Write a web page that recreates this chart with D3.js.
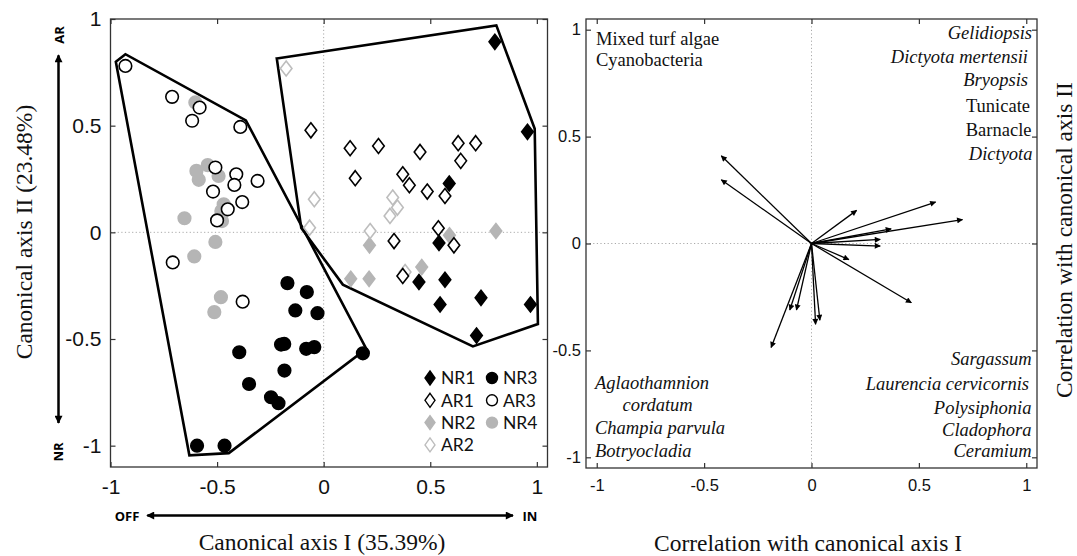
<!DOCTYPE html>
<html>
<head>
<meta charset="utf-8">
<script src="https://cdn.jsdelivr.net/npm/d3@7"></script>
<style>
  html, body { margin: 0; padding: 0; background: #fff; }
  svg { display: block; }
</style>
</head>
<body>
<svg id="chart" width="1077" height="556"></svg>
<script>
// ---- Canonical scores (axis I, axis II) per site group ----
const NR1 = [[0.803, 0.893], [0.956, 0.471], [0.589, 0.229], [0.541, -0.05], [0.569, -0.222],
             [0.447, -0.233], [0.546, -0.338], [0.738, -0.307], [0.970, -0.338], [0.717, -0.484]];
const AR1 = [[-0.06, 0.478], [0.124, 0.394], [0.257, 0.405], [0.452, 0.377], [0.631, 0.418],
             [0.713, 0.418], [0.643, 0.335], [0.148, 0.254], [0.371, 0.272], [0.402, 0.221],
             [0.486, 0.191], [0.569, 0.170], [0.538, 0.019], [0.33, -0.041], [0.611, -0.061],
             [0.371, -0.205]];
const NR2 = [[0.808, 0.006], [0.215, -0.061], [0.127, -0.218], [0.213, -0.218], [0.46, -0.163],
             [0.59, -0.014]];
const AR2 = [[-0.176, 0.768], [-0.044, 0.155], [-0.066, 0.022], [0.324, 0.163], [0.346, 0.116],
             [0.311, 0.077], [0.218, 0.006], [0.382, -0.186]];
const NR3 = [[-0.17, -0.238], [-0.079, -0.28], [-0.133, -0.366], [-0.029, -0.379], [-0.2, -0.526],
             [-0.185, -0.523], [-0.082, -0.546], [-0.044, -0.538], [-0.396, -0.562], [-0.184, -0.648],
             [-0.35, -0.711], [-0.247, -0.773], [-0.212, -0.801], [-0.594, -1.0], [-0.465, -1.0],
             [0.184, -0.567]];
const AR3 = [[-0.93, 0.78], [-0.711, 0.635], [-0.582, 0.585], [-0.617, 0.523], [-0.391, 0.494],
             [-0.508, 0.304], [-0.41, 0.272], [-0.31, 0.241], [-0.419, 0.222], [-0.519, 0.191],
             [-0.382, 0.142], [-0.45, 0.108], [-0.5, 0.056], [-0.708, -0.141], [-0.38, -0.325]];
const NR4 = [[-0.602, 0.609], [-0.544, 0.315], [-0.597, 0.288], [-0.586, 0.246], [-0.493, 0.264],
             [-0.469, 0.131], [-0.48, 0.10], [-0.653, 0.066], [-0.477, 0.053], [-0.508, -0.045],
             [-0.607, -0.113], [-0.482, -0.304], [-0.513, -0.374]];

// Envelopes around the offshore (NR3/AR3/NR4) and inshore (NR1/AR1/NR2/AR2) groups
const hullOff = [[-0.975, 0.80], [-0.93, 0.835], [-0.365, 0.525], [0.2, -0.546], [-0.445, -1.035], [-0.63, -1.045]];
const hullIn  = [[-0.22, 0.815], [0.81, 0.97], [0.99, 0.485], [1.005, -0.43], [0.70, -0.535], [0.09, -0.245], [-0.105, 0.02]];

// ---- Structure correlations with canonical axes ----
const vecX = [-0.42, -0.42, 0.21, 0.578, 0.703, 0.371, 0.32, 0.32, 0.174, 0.465, -0.188, -0.101, -0.07, 0.019, 0.039];
const vecY = [0.41, 0.298, 0.155, 0.194, 0.112, 0.068, 0.019, -0.012, -0.075, -0.277, -0.486, -0.311, -0.311, -0.378, -0.359];

const tickVals = [-1, -0.5, 0, 0.5, 1];
const tickLabels = ["-1", "-0.5", "0", "0.5", "1"];

const labelsTopLeft = ["Mixed turf algae", "Cyanobacteria"];
const labelsTopRight = [["Gelidiopsis", true], ["Dictyota mertensii", true], ["Bryopsis", true],
                        ["Tunicate", false], ["Barnacle", false], ["Dictyota", true]];
const labelsBottomLeft = ["Aglaothamnion", "cordatum", "Champia parvula", "Botryocladia"];
const labelsBottomRight = ["Sargassum", "Laurencia cervicornis", "Polysiphonia", "Cladophora", "Ceramium"];

const svg = d3.select("#chart");
const SANS = "'Liberation Sans', Arial, sans-serif";
const SERIF = "'Liberation Serif', 'Times New Roman', serif";
const LEG = "Lato, 'Open Sans', sans-serif";
const frameColor = "#333";

// ================= Left panel: canonical scores =================
const xL = d3.scaleLinear().domain([-1, 1.05]).range([110.5, 547.5]);
const yL = d3.scaleLinear().domain([-1.1, 1]).range([467, 19]);
const L = svg.append("g");

// zero reference lines
L.append("line").attr("x1", xL(-1)).attr("x2", xL(1.05)).attr("y1", yL(0)).attr("y2", yL(0))
  .attr("stroke", "#aaa").attr("stroke-dasharray", "1.2,2.4").attr("stroke-width", 1);
L.append("line").attr("x1", xL(0)).attr("x2", xL(0)).attr("y1", yL(1)).attr("y2", yL(-1.1))
  .attr("stroke", "#aaa").attr("stroke-dasharray", "1.2,2.4").attr("stroke-width", 1);

function styleAxis(g, fontSize) {
  g.select(".domain").remove();
  g.selectAll(".tick line").attr("stroke", frameColor).attr("stroke-width", 1.2);
  g.selectAll("text").attr("font-family", SANS).attr("font-size", fontSize).attr("fill", "#111");
}

const fmt = d => tickLabels[tickVals.indexOf(d)];
L.append("g").attr("transform", `translate(0,${yL(-1.1)})`)
  .call(d3.axisBottom(xL).tickValues(tickVals).tickFormat(fmt).tickSize(-5).tickPadding(12))
  .call(g => styleAxis(g, 21));
L.append("g").attr("transform", `translate(0,${yL(1)})`)
  .call(d3.axisTop(xL).tickValues(tickVals).tickFormat("").tickSize(-5))
  .call(g => styleAxis(g, 21));
L.append("g").attr("transform", `translate(${xL(-1)},0)`)
  .call(d3.axisLeft(yL).tickValues(tickVals).tickFormat(fmt).tickSize(-5).tickPadding(9))
  .call(g => styleAxis(g, 21));
L.append("g").attr("transform", `translate(${xL(1.05)},0)`)
  .call(d3.axisRight(yL).tickValues(tickVals).tickFormat("").tickSize(-5))
  .call(g => styleAxis(g, 21));

// envelopes
const lineL = d3.line().x(d => xL(d[0])).y(d => yL(d[1])).curve(d3.curveLinearClosed);
[hullOff, hullIn].forEach(h => {
  L.append("path").attr("d", lineL(h)).attr("fill", "none")
    .attr("stroke", "#000").attr("stroke-width", 2.6).attr("stroke-linejoin", "miter");
});

// marker shapes
const diamondPath = (cx, cy) => `M${cx},${cy - 7.5}L${cx + 5.8},${cy}L${cx},${cy + 7.5}L${cx - 5.8},${cy}Z`;
const groups = [
  { name: "NR4", data: NR4, shape: "circle", fill: "#b5b5b5", stroke: "#b5b5b5" },
  { name: "NR2", data: NR2, shape: "diamond", fill: "#b5b5b5", stroke: "#b5b5b5" },
  { name: "AR2", data: AR2, shape: "diamond", fill: "#fff", stroke: "#bdbdbd" },
  { name: "NR3", data: NR3, shape: "circle", fill: "#000", stroke: "#000" },
  { name: "AR3", data: AR3, shape: "circle", fill: "#fff", stroke: "#000" },
  { name: "AR1", data: AR1, shape: "diamond", fill: "#fff", stroke: "#000" },
  { name: "NR1", data: NR1, shape: "diamond", fill: "#000", stroke: "#000" }
];

function drawMarker(g, shape, cx, cy, fill, stroke) {
  if (shape === "circle") {
    g.append("circle").attr("cx", cx).attr("cy", cy).attr("r", 6.3)
      .attr("fill", fill).attr("stroke", stroke).attr("stroke-width", 1.6);
  } else {
    g.append("path").attr("d", diamondPath(cx, cy))
      .attr("fill", fill).attr("stroke", stroke).attr("stroke-width", 1.6);
  }
}

groups.forEach(grp => {
  const gg = L.append("g");
  grp.data.forEach(d => drawMarker(gg, grp.shape, xL(d[0]), yL(d[1]), grp.fill, grp.stroke));
});

// legend
const legendItems = [
  { name: "NR1", col: 0, row: 0 }, { name: "AR1", col: 0, row: 1 },
  { name: "NR2", col: 0, row: 2 }, { name: "AR2", col: 0, row: 3 },
  { name: "NR3", col: 1, row: 0 }, { name: "AR3", col: 1, row: 1 },
  { name: "NR4", col: 1, row: 2 }
];
const legG = L.append("g").attr("transform", "translate(430,378)");
legendItems.forEach(it => {
  const grp = groups.find(g => g.name === it.name);
  const cx = it.col * 62, cy = it.row * 22.3;
  if (grp.shape === "circle") {
    legG.append("circle").attr("cx", cx).attr("cy", cy).attr("r", 5.5)
      .attr("fill", grp.fill).attr("stroke", grp.stroke).attr("stroke-width", 1.4);
  } else {
    legG.append("path").attr("d", `M${cx},${cy - 7}L${cx + 5},${cy}L${cx},${cy + 7}L${cx - 5},${cy}Z`)
      .attr("fill", grp.fill).attr("stroke", grp.stroke).attr("stroke-width", 1.4);
  }
  legG.append("text").attr("x", cx + 11).attr("y", cy).attr("dy", "0.36em")
    .attr("font-family", LEG).attr("font-size", 17.5).attr("fill", "#111").text(it.name);
});

// frame
L.append("rect").attr("x", xL(-1)).attr("y", yL(1)).attr("width", xL(1.05) - xL(-1)).attr("height", yL(-1.1) - yL(1))
  .attr("fill", "none").attr("stroke", frameColor).attr("stroke-width", 1.3);

// axis titles
L.append("text").attr("x", 322).attr("y", 550).attr("text-anchor", "middle")
  .attr("font-family", SERIF).attr("font-size", 23.5).attr("fill", "#111").text("Canonical axis I (35.39%)");
L.append("text").attr("transform", "translate(32,232) rotate(-90)").attr("text-anchor", "middle")
  .attr("font-family", SERIF).attr("font-size", 23.5).attr("fill", "#111").text("Canonical axis II (23.48%)");

// gradient arrows
const defs = svg.append("defs");
defs.append("marker").attr("id", "bigHead").attr("viewBox", "0 0 10 10").attr("refX", 9).attr("refY", 5)
  .attr("markerWidth", 10).attr("markerHeight", 8).attr("markerUnits", "userSpaceOnUse").attr("orient", "auto")
  .append("path").attr("d", "M0,0L10,5L0,10Z").attr("fill", "#000");
L.append("line").attr("x1", 58.5).attr("x2", 58.5).attr("y1", 423).attr("y2", 55)
  .attr("stroke", "#000").attr("stroke-width", 2).attr("marker-end", "url(#bigHead)");
L.append("line").attr("x1", 58.5).attr("x2", 58.5).attr("y1", 56).attr("y2", 423)
  .attr("stroke", "#000").attr("stroke-width", 2).attr("marker-end", "url(#bigHead)");
L.append("line").attr("x1", 513).attr("x2", 147).attr("y1", 515.5).attr("y2", 515.5)
  .attr("stroke", "#000").attr("stroke-width", 2).attr("marker-end", "url(#bigHead)");
L.append("line").attr("x1", 148).attr("x2", 513).attr("y1", 515.5).attr("y2", 515.5)
  .attr("stroke", "#000").attr("stroke-width", 2).attr("marker-end", "url(#bigHead)");
const boldTxt = (x, y, t, rot) => L.append("text")
  .attr("transform", `translate(${x},${y})` + (rot ? " rotate(-90)" : ""))
  .attr("text-anchor", "middle").attr("dy", "0.36em")
  .attr("font-family", "'Open Sans', sans-serif").attr("font-weight", 700).attr("font-size", 13)
  .attr("fill", "#000").text(t);
boldTxt(59, 35, "AR", true);
boldTxt(58, 452, "NR", true);
boldTxt(127, 516, "OFF", false);
boldTxt(530, 516, "IN", false);

// ================= Right panel: correlations =================
const xR = d3.scaleLinear().domain([-1.05, 1.05]).range([586, 1037]);
const yR = d3.scaleLinear().domain([-1.05, 1.05]).range([468, 19]);
const R = svg.append("g");

R.append("line").attr("x1", xR(-1.05)).attr("x2", xR(1.05)).attr("y1", yR(0)).attr("y2", yR(0))
  .attr("stroke", "#aaa").attr("stroke-dasharray", "1.2,2.4").attr("stroke-width", 1);
R.append("line").attr("x1", xR(0)).attr("x2", xR(0)).attr("y1", yR(1.05)).attr("y2", yR(-1.05))
  .attr("stroke", "#aaa").attr("stroke-dasharray", "1.2,2.4").attr("stroke-width", 1);

R.append("g").attr("transform", `translate(0,${yR(-1.05)})`)
  .call(d3.axisBottom(xR).tickValues(tickVals).tickFormat(fmt).tickSize(-5).tickPadding(11))
  .call(g => styleAxis(g, 16.5));
R.append("g").attr("transform", `translate(0,${yR(1.05)})`)
  .call(d3.axisTop(xR).tickValues(tickVals).tickFormat("").tickSize(-5))
  .call(g => styleAxis(g, 16.5));
R.append("g").attr("transform", `translate(${xR(-1.05)},0)`)
  .call(d3.axisLeft(yR).tickValues(tickVals).tickFormat(fmt).tickSize(-5).tickPadding(5))
  .call(g => styleAxis(g, 16.5));
R.append("g").attr("transform", `translate(${xR(1.05)},0)`)
  .call(d3.axisRight(yR).tickValues(tickVals).tickFormat("").tickSize(-5))
  .call(g => styleAxis(g, 16.5));

defs.append("marker").attr("id", "smallHead").attr("viewBox", "0 0 10 10").attr("refX", 9).attr("refY", 5)
  .attr("markerWidth", 8).attr("markerHeight", 6).attr("markerUnits", "userSpaceOnUse").attr("orient", "auto")
  .append("path").attr("d", "M0,0L10,5L0,10Z").attr("fill", "#000");

vecX.forEach((vx, i) => {
  R.append("line").attr("x1", xR(0)).attr("y1", yR(0)).attr("x2", xR(vx)).attr("y2", yR(vecY[i]))
    .attr("stroke", "#000").attr("stroke-width", 1.3).attr("marker-end", "url(#smallHead)");
});

R.append("rect").attr("x", xR(-1.05)).attr("y", yR(1.05)).attr("width", xR(1.05) - xR(-1.05)).attr("height", yR(-1.05) - yR(1.05))
  .attr("fill", "none").attr("stroke", frameColor).attr("stroke-width", 1.3);

const spTxt = (x, y, t, anchor, italic) => R.append("text").attr("x", x).attr("y", y)
  .attr("text-anchor", anchor).attr("font-family", SERIF).attr("font-size", 18.5)
  .attr("font-style", italic ? "italic" : "normal").attr("fill", "#111").text(t);

[45, 66].forEach((y, i) => spTxt(596, y, labelsTopLeft[i], "start", false));
const topRightY = [38.5, 62.5, 86, 112, 135.5, 160];
const topRightX = [1032, 1028, 1028, 1030, 1031.5, 1032.5];
topRightY.forEach((y, i) => spTxt(topRightX[i], y, labelsTopRight[i][0], "end", labelsTopRight[i][1]));
spTxt(595, 388.5, labelsBottomLeft[0], "start", true);
spTxt(622.5, 410.5, labelsBottomLeft[1], "start", true);
spTxt(595, 433.5, labelsBottomLeft[2], "start", true);
spTxt(595, 457, labelsBottomLeft[3], "start", true);
const botRightY = [365, 389.5, 414, 436, 457];
const botRightX = [1031.5, 1029, 1031.5, 1031.5, 1031.5];
botRightY.forEach((y, i) => spTxt(botRightX[i], y, labelsBottomRight[i], "end", true));

R.append("text").attr("x", 808).attr("y", 551).attr("text-anchor", "middle")
  .attr("font-family", SERIF).attr("font-size", 23.5).attr("fill", "#111").text("Correlation with canonical axis I");
R.append("text").attr("transform", "translate(1072,240) rotate(-90)").attr("text-anchor", "middle")
  .attr("font-family", SERIF).attr("font-size", 23.5).attr("fill", "#111").text("Correlation with canonical axis II");
</script>
</body>
</html>
